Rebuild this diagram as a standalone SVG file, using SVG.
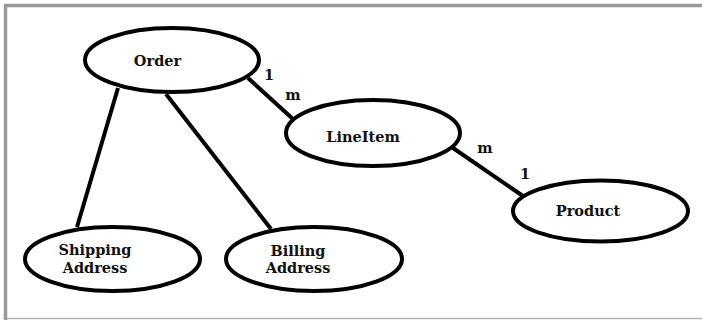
<svg xmlns="http://www.w3.org/2000/svg" width="702" height="320" viewBox="0 0 702 320">
  <style>
    .node ellipse { fill: #ffffff; stroke: #000000; stroke-width: 4; }
    .node text, .lbl { font-family: "DejaVu Serif", "Liberation Serif", serif; font-weight: bold; font-size: 14.5px; fill: #111111; text-anchor: middle; }
    .conn line { stroke: #000000; stroke-width: 4; }
  </style>
  <rect x="0" y="0" width="702" height="320" fill="#ffffff"/>
  <path d="M5.5,320 V5.5 H702" fill="none" stroke="#9a9a9a" stroke-width="3.5"/>
  <line x1="7" y1="318.5" x2="702" y2="318.5" stroke="#b4b4b4" stroke-width="1.5"/>

  <g class="conn" id="connectors">
    <line x1="118" y1="88" x2="77" y2="227"/>
    <line x1="166" y1="94" x2="271" y2="229"/>
    <line x1="248" y1="78" x2="294" y2="120"/>
    <line x1="453" y1="148" x2="523" y2="196"/>
    <text class="lbl" x="269" y="80">1</text>
    <text class="lbl" x="293" y="100">m</text>
    <text class="lbl" x="485" y="153">m</text>
    <text class="lbl" x="525" y="179">1</text>
  </g>

  <g class="node" id="order">
    <ellipse cx="172" cy="60" rx="87" ry="32"/>
    <text x="157.5" y="66">Order</text>
  </g>
  <g class="node" id="lineitem">
    <ellipse cx="373" cy="133" rx="87" ry="33"/>
    <text x="363" y="142">LineItem</text>
  </g>
  <g class="node" id="product">
    <ellipse cx="600.5" cy="211" rx="87.5" ry="30.5"/>
    <text x="588" y="216">Product</text>
  </g>
  <g class="node" id="shipping">
    <ellipse cx="112.5" cy="259" rx="87.5" ry="32"/>
    <text x="95" y="255">Shipping</text>
    <text x="95" y="273">Address</text>
  </g>
  <g class="node" id="billing">
    <ellipse cx="314" cy="259" rx="88" ry="32"/>
    <text x="298" y="256">Billing</text>
    <text x="298" y="273">Address</text>
  </g>
</svg>
